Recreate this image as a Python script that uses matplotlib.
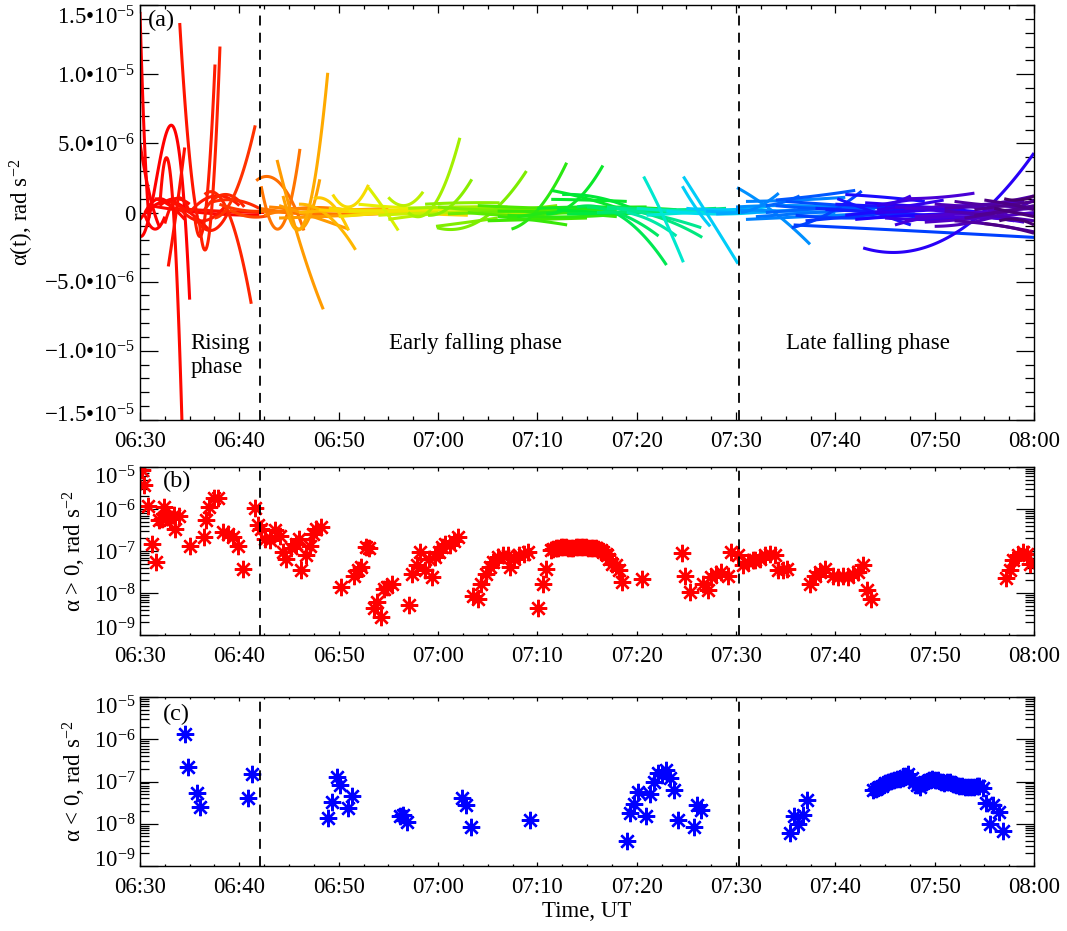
import numpy as np
import matplotlib
matplotlib.use('Agg')
import matplotlib.pyplot as plt
from matplotlib.colors import LinearSegmentedColormap
from matplotlib.ticker import FixedLocator, MultipleLocator, NullFormatter
from matplotlib.transforms import ScaledTranslation

plt.rcParams['font.family'] = ['Liberation Serif', 'DejaVu Serif']
plt.rcParams['mathtext.fontset'] = 'custom'
plt.rcParams['mathtext.rm'] = 'Liberation Serif'
plt.rcParams['mathtext.it'] = 'Liberation Serif:italic'

# time axis: minutes after 06:30 UT
time_ticks = [0, 10, 20, 30, 40, 50, 60, 70, 80, 90]
time_labels = ['06:30', '06:40', '06:50', '07:00', '07:10', '07:20', '07:30', '07:40', '07:50', '08:00']
phase_bounds = [12.1, 60.25]

# panel (a): fitted alpha(t) curves, knots (t in min, alpha in 1e-6 rad s^-2)
curve_t = [
    (0.0, 0.4, 0.9), (0.0, 1.0, 2.0), (0.0, 1.5, 2.85, 5.0), (2.85, 3.7, 4.5), (2.0, 3.3, 4.3),
    (4.0, 4.8, 5.8), (5.5, 6.8, 7.55), (6.0, 7.3, 8.05), (7.5, 9.8, 11.6), (6.5, 8.5, 11.2),
    (0.5, 1.5, 2.5), (1.5, 2.8, 4.5), (2.5, 3.5, 5.0), (3.0, 5.0, 7.0), (5.0, 7.5, 10.0),
    (3.5, 8.0, 12.5), (1.0, 6.0, 12.0), (8.0, 10.0, 12.3), (4.0, 6.0, 8.5), (9.0, 11.0, 13.0),
    (0.5, 2.0, 3.5), (2.0, 3.5, 5.0), (5.5, 7.0, 9.0), (6.5, 8.5, 10.5), (7.0, 9.5, 12.0),
    (0.0, 2.5, 5.0),
    (11.7, 12.9, 16.5), (13.8, 15.2, 18.45), (12.2, 13.9, 16.1), (14.4, 16.1, 18.1), (15.0, 17.5, 18.9),
    (12.0, 15.0, 19.0), (12.5, 16.0, 20.5), (14.0, 17.0, 21.0), (16.0, 18.5, 21.7), (17.5, 19.0, 21.0),
    (19.4, 21.0, 23.0), (23.0, 25.0, 26.0), (25.0, 26.5, 28.5), (27.0, 30.0, 32.2), (29.0, 31.5, 33.4),
    (29.8, 33.0, 36.0), (29.9, 34.2, 38.9), (37.4, 40.5, 42.95), (41.4, 45.0, 48.6), (40.9, 44.0, 46.6),
    (44.0, 48.0, 53.0), (50.7, 52.5, 54.7), (49.0, 51.5, 54.0), (54.7, 57.0, 60.2), (54.6, 55.8, 57.4),
    (45.0, 49.0, 52.2), (47.0, 52.0, 56.6), (48.0, 52.0, 56.5), (42.5, 46.0, 49.5), (36.0, 39.0, 43.0),
    (18.0, 24.0, 30.0), (20.0, 27.0, 34.0), (22.0, 28.0, 35.0), (25.0, 31.0, 37.0), (30.0, 36.0, 42.0),
    (33.0, 38.0, 44.0), (36.0, 42.0, 48.0), (38.0, 44.0, 51.0), (42.0, 48.0, 54.0), (46.0, 52.0, 58.0),
    (50.0, 55.0, 60.0), (53.0, 57.0, 62.0), (28.7, 32.5, 36.2), (41.4, 45.0, 49.0), (35.0, 40.0, 45.0),
    (12.0, 20.0, 28.0), (13.0, 19.0, 25.0), (14.0, 21.0, 28.0), (16.0, 23.0, 30.0), (19.0, 26.0, 33.0),
    (21.0, 29.0, 37.0), (24.0, 32.0, 40.0), (27.0, 34.0, 41.0), (31.0, 38.0, 45.0), (34.0, 41.0, 48.0),
    (37.0, 44.0, 50.0), (40.0, 47.0, 54.0), (43.0, 50.0, 57.0), (47.0, 53.0, 59.0), (51.0, 56.0, 61.0),
    (55.0, 59.0, 63.0), (58.0, 61.0, 64.0),
    (60.1, 63.5, 67.45), (60.5, 62.5, 64.3), (63.0, 65.0, 66.4), (65.6, 69.5, 72.65), (65.8, 77.0, 90.0),
    (72.8, 82.9, 90.0), (70.2, 74.0, 77.6), (75.0, 76.3, 77.6), (74.2, 76.5, 78.7), (74.2, 77.5, 80.9),
    (77.0, 83.0, 89.0), (80.0, 86.0, 90.0), (81.0, 85.5, 90.0), (82.0, 86.0, 90.0), (84.0, 87.0, 90.0),
    (60.0, 65.0, 70.0), (62.0, 68.0, 74.0), (64.0, 70.0, 76.0), (66.0, 72.0, 78.0), (68.0, 74.0, 80.0),
    (70.0, 76.0, 82.0), (72.0, 78.0, 84.0), (74.0, 80.0, 86.0), (76.0, 82.0, 88.0), (78.0, 84.0, 90.0),
    (80.0, 85.0, 90.0), (83.0, 86.5, 90.0), (85.0, 87.5, 90.0), (61.0, 66.0, 71.0), (64.0, 68.0, 72.0),
    (57.0, 61.0, 66.0), (71.0, 75.0, 79.0), (77.0, 80.5, 84.0), (76.0, 79.0, 82.0), (85.0, 87.0, 90.0),
    (60.0, 66.0, 72.0), (61.0, 67.0, 73.0), (63.0, 69.0, 75.0), (65.0, 71.0, 77.0), (67.0, 73.0, 79.0),
    (69.0, 75.0, 81.0), (71.0, 77.0, 83.0), (73.0, 79.0, 85.0), (75.0, 81.0, 87.0), (77.0, 83.0, 89.0),
    (79.0, 84.5, 90.0), (81.0, 85.5, 90.0), (82.0, 86.0, 90.0), (84.0, 87.0, 90.0), (86.0, 88.0, 90.0),
    (86.5, 88.2, 90.0), (87.0, 88.5, 90.0),
]
curve_v = [
    (14.5, 6.0, -0.4), (5.0, 1.2, -1.1), (-1.7, 1.8, 6.1, -6.3), (-3.9, 0.3, 4.7), (0.5, 0.8, -17.0),
    (13.7, 5.5, -0.4), (-0.3, 1.5, 10.7), (-0.8, 1.0, 12.0), (-0.4, 1.8, 6.3), (1.3, 0.6, -6.6),
    (-0.2, -1.2, -0.3), (1.0, 0.6, -0.5), (-0.8, 0.9, 0.0), (0.8, 0.0, -1.3), (0.0, 1.2, 0.5),
    (0.3, 0.1, 0.0), (0.5, 0.0, -0.2), (0.6, 0.2, 0.1), (0.3, -0.6, 0.4), (0.2, -0.3, -0.2),
    (0.0, 1.0, 0.0), (0.5, 1.0, 0.6), (-0.3, -1.3, 0.2), (0.2, 1.3, 0.4), (0.7, 0.9, 0.3),
    (-0.5, 0.8, 0.0),
    (2.3, 2.6, -1.3), (3.8, 0.0, -7.0), (1.9, -1.2, 4.6), (1.2, -1.2, 2.4), (-0.3, 2.0, 10.1),
    (0.3, 0.0, -0.3), (-0.2, 0.3, 0.2), (0.5, -0.2, -1.2), (0.6, 0.0, -2.7), (1.0, 0.8, -1.3),
    (1.3, 0.4, 2.0), (1.8, -0.2, -1.3), (1.1, 0.5, 1.5), (0.0, 1.0, 5.4), (-0.2, 0.6, 2.4),
    (-1.0, -0.7, -0.4), (-1.1, -0.6, 3.0), (-1.2, 0.6, 3.6), (1.6, 1.0, 0.2), (-0.1, 0.9, 3.4),
    (0.4, -0.1, -3.8), (2.6, 0.0, -3.6), (0.0, -0.6, -1.7), (2.6, 0.0, -3.7), (1.9, 0.5, -1.0),
    (0.4, -0.3, -1.7), (0.3, -0.3, -1.8), (0.3, -0.2, -1.1), (1.3, 1.1, 0.3), (-0.3, -0.5, -0.9),
    (0.2, 0.0, 0.1), (-0.3, 0.1, 0.4), (0.6, 0.3, 0.3), (-0.5, 0.0, 0.2), (0.4, 0.2, 0.5),
    (0.0, -0.2, 0.1), (0.1, 0.0, -0.3), (-0.3, 0.2, 0.4), (0.2, 0.0, 0.1), (0.0, 0.1, 0.3),
    (0.3, 0.1, 0.1), (0.1, -0.1, 0.0), (0.6, 0.7, 0.7), (0.95, 0.9, 0.8), (-0.6, -0.5, -0.4),
    (0.1, -0.1, 0.0), (0.4, 0.2, 0.3), (-0.4, -0.2, 0.1), (0.0, 0.2, 0.0), (0.3, 0.0, -0.2),
    (0.1, 0.2, 0.4), (-0.2, 0.0, -0.1), (0.3, 0.4, 0.2), (-0.1, 0.1, 0.3), (0.5, 0.3, 0.2),
    (-0.2, -0.3, 0.0), (0.3, 0.4, 0.2), (-0.1, 0.0, 0.2), (0.4, 0.2, 0.3), (-0.2, 0.0, 0.1),
    (0.3, 0.2, 0.4), (-0.1, 0.0, 0.1),
    (1.8, 0.2, -2.3), (0.0, 0.5, 1.4), (0.5, 0.8, 1.2), (-1.1, 0.0, 1.55), (-0.9, -1.3, -1.8),
    (-2.56, -1.1, 4.3), (1.0, 0.0, -0.9), (0.5, 0.8, 1.2), (0.5, 0.8, 1.0), (0.2, 0.5, 0.9),
    (-0.6, -0.3, -0.7), (-1.0, -0.3, 0.9), (0.3, 0.6, 1.2), (-0.6, -0.9, -1.4), (0.2, 0.5, 0.8),
    (0.2, 0.1, 0.0), (-0.3, 0.0, 0.3), (0.5, 0.3, 0.6), (-0.2, -0.4, -0.1), (0.3, 0.0, -0.5),
    (0.6, 0.4, 0.2), (-0.5, -0.2, 0.0), (0.0, 0.2, 0.6), (0.4, 0.0, -0.6), (-0.3, 0.0, 0.3),
    (0.6, 0.3, -0.2), (-0.4, 0.0, 0.5), (0.9, 0.6, 0.2), (0.8, 0.9, 1.1), (0.9, 1.2, 1.6),
    (0.1, 0.0, 0.2), (1.3, 1.1, 0.8), (1.0, 1.1, 1.4), (-0.9, -0.4, -0.2), (-0.8, -1.0, -1.5),
    (0.4, 0.5, 0.3), (-0.5, -0.3, -0.1), (0.0, 0.3, 0.5), (0.8, 0.5, 0.2), (-0.6, -0.2, 0.2),
    (0.2, 0.0, -0.3), (-0.2, 0.2, 0.4), (0.7, 0.4, 0.0), (-0.4, -0.5, -0.2), (0.3, 0.5, 0.8),
    (-0.7, -0.4, 0.0), (0.1, -0.2, -0.6), (0.8, 0.5, 0.4), (-0.2, 0.1, 0.4), (0.3, 0.0, -0.3),
    (-0.6, -0.5, -0.9), (1.0, 0.9, 1.2),
]

# panel (b): alpha > 0
pos_t = [0.17, 0.4, 0.8, 1.17, 1.57, 1.9, 2.23, 2.4, 2.73, 3.07, 3.4, 3.57, 3.97, 5.07, 6.4, 6.63,
         6.9, 7.4, 7.9, 8.4, 8.9, 9.4, 9.9, 10.4, 11.57, 11.9, 12.23, 12.57, 13.07, 13.57, 14.07,
         14.4, 14.73, 15.23, 15.73, 15.97, 16.23, 16.73, 17.07, 17.4, 17.73, 18.23, 20.23, 21.57,
         21.9, 22.23, 22.73, 23.07, 23.57, 23.9, 24.23, 24.57, 24.9, 25.4, 27.07, 27.4, 27.9, 28.23,
         28.73, 29.07, 29.4, 29.73, 30.07, 30.4, 30.73, 31.2, 31.6, 32.0,
         33.53, 34.03, 34.37, 34.87, 35.2, 35.53, 36.03, 36.53, 37.03, 37.2, 37.7, 38.2, 38.7, 39.03,
         40.03, 40.53, 40.87, 41.37, 41.6, 41.87, 42.1, 42.37, 42.6, 42.87, 43.1, 43.37, 43.6, 43.87,
         44.1, 44.37, 44.6, 44.87, 45.1, 45.37, 45.6, 45.87, 46.1, 46.37, 46.6, 46.87, 47.0, 47.2,
         47.53, 47.87, 48.2, 48.53, 50.53, 54.53, 54.87, 55.37, 56.7, 57.2, 57.53, 58.03, 58.53,
         59.2, 59.53, 60.2, 60.7, 61.2, 61.7, 61.9, 62.4, 62.9, 63.4, 63.9, 64.26, 64.77, 65.1,
         67.45, 67.95, 68.46, 68.96, 69.8, 70.3, 70.8, 71.3, 71.8, 72.3, 72.75, 73.15, 73.56,
         87.2, 87.6, 87.9, 88.4, 88.9, 89.26, 89.6]
pos_v = [8.3e-6, 3.8e-6, 1.2e-6, 1.5e-7, 5.5e-8, 5.4e-7, 5.9e-7, 1.1e-6, 6.5e-7, 5.9e-7, 7.1e-7,
         3.4e-7, 6.8e-7, 1.35e-7, 2.1e-7, 5.4e-7, 1.1e-6, 1.8e-6, 1.8e-6, 2.8e-7, 2.6e-7, 2.1e-7,
         1.3e-7, 3.8e-8, 1.05e-6, 4.1e-7, 3.4e-7, 1.95e-7, 1.8e-7, 3.1e-7, 2.3e-7, 9.5e-8, 6.6e-8,
         1.15e-7, 1.5e-7, 1.95e-7, 3.5e-8, 7.9e-8, 1.35e-7, 2.6e-7, 3.4e-7, 3.7e-7, 1.4e-8, 2.6e-8,
         3.5e-8, 4.2e-8, 1.25e-7, 1.15e-7, 4.3e-9, 6.1e-9, 2.7e-9, 1.25e-8, 1.4e-8, 1.65e-8, 5.1e-9,
         2.9e-8, 4.6e-8, 9.5e-8, 3.5e-8, 6.6e-8, 2.4e-8, 7.2e-8, 9.5e-8, 1.25e-7, 1.5e-7, 1.4e-7,
         1.7e-7, 2.2e-7,
         8.7e-9, 7.4e-9, 1.65e-8, 2.9e-8, 4.2e-8, 5.5e-8, 7.2e-8, 7.9e-8, 7.9e-8, 4.2e-8, 6.6e-8,
         7.9e-8, 8.7e-8, 9.5e-8, 4.3e-9, 1.65e-8, 3.8e-8, 1.05e-7, 1.1e-7, 1.15e-7, 1.2e-7, 1.25e-7,
         1.25e-7, 1.25e-7, 1.2e-7, 1.15e-7, 1.2e-7, 1.25e-7, 1.25e-7, 1.25e-7, 1.25e-7, 1.25e-7,
         1.2e-7, 1.17e-7, 1.15e-7, 1.15e-7, 1.1e-7, 1.05e-7, 9.5e-8, 8.7e-8, 7.9e-8, 6.6e-8, 5.0e-8,
         4.6e-8, 3.5e-8, 1.8e-8, 2.2e-8, 9.1e-8, 2.6e-8, 1.05e-8, 1.65e-8, 1.15e-8, 2.4e-8, 2.9e-8,
         3.2e-8, 2.6e-8, 9.5e-8, 7.9e-8, 4.6e-8, 5.5e-8, 6.0e-8, 6.0e-8, 6.6e-8, 7.9e-8, 8.7e-8,
         7.9e-8, 3.5e-8, 3.5e-8, 3.8e-8, 1.65e-8, 2.6e-8, 3.2e-8, 3.8e-8, 2.6e-8, 2.4e-8, 2.6e-8,
         2.4e-8, 2.9e-8, 3.2e-8, 4.6e-8, 1.15e-8, 7.4e-9,
         2.3e-8, 3.5e-8, 6.0e-8, 7.9e-8, 9.5e-8, 8.7e-8, 5.0e-8]

# panel (c): |alpha| for alpha < 0
neg_t = [4.53, 4.87, 5.7, 6.04, 10.9, 11.3, 18.96, 19.3, 19.8, 20.13, 20.97, 21.3, 26.17, 26.5,
         26.84, 32.46, 32.85, 33.33, 39.29, 49.03, 49.35, 49.75, 50.14, 50.94, 51.34, 51.73, 52.13,
         52.53, 52.93, 53.32, 53.8, 54.2, 55.79, 56.1, 56.5, 65.45, 65.84, 66.24, 66.72, 67.15,
         73.79, 74.1, 74.39, 74.7, 74.98, 75.3, 75.58, 75.9, 76.17, 76.5, 76.77, 77.06, 77.36, 77.7,
         77.96, 78.26, 78.56, 78.86, 79.15, 79.45, 79.75, 80.05, 80.35, 80.65, 80.94, 81.24, 81.54,
         81.84, 82.13, 82.43, 82.73, 83.03, 83.32, 83.62, 83.92, 84.21, 84.51, 84.91, 85.12, 85.6,
         85.91, 86.51, 86.9]
neg_v = [1.36e-6, 2.2e-7, 5.4e-8, 2.5e-8, 4.1e-8, 1.5e-7, 1.4e-8, 3.3e-8, 1.3e-7, 8.2e-8, 2.3e-8,
         4.6e-8, 1.5e-8, 1.6e-8, 1.1e-8, 4.0e-8, 2.8e-8, 8.3e-9, 1.2e-8, 4.0e-9, 1.8e-8, 2.9e-8,
         5.5e-8, 1.5e-8, 5.2e-8, 1.0e-7, 1.6e-7, 1.45e-7, 1.9e-7, 1.2e-7, 6.3e-8, 1.2e-8, 8.3e-9,
         2.8e-8, 2.1e-8, 6.2e-9, 1.5e-8, 1.0e-8, 1.65e-8, 3.7e-8,
         6.2e-8, 6.8e-8, 7.4e-8, 8.0e-8, 9.1e-8, 9.5e-8, 1.05e-7, 1.1e-7, 1.15e-7, 1.15e-7, 1.2e-7,
         1.35e-7, 1.5e-7, 1.2e-7, 1.0e-7, 8.5e-8, 7.6e-8, 9.0e-8, 1.0e-7, 1.1e-7, 1.15e-7, 1.1e-7,
         1.07e-7, 1.0e-7, 9.1e-8, 9.5e-8, 9.5e-8, 8.8e-8, 8.3e-8, 8.0e-8, 7.9e-8, 7.6e-8, 7.4e-8,
         7.6e-8, 7.6e-8, 7.8e-8, 7.9e-8, 6.9e-8, 3.1e-8, 1.0e-8, 2.8e-8, 1.95e-8, 6.9e-9]

a_ticks = [-1.5e-5, -1.0e-5, -5.0e-6, 0.0, 5.0e-6, 1.0e-5, 1.5e-5]
a_labels = ['\u22121.5\u202210$^{\u22125}$', '\u22121.0\u202210$^{\u22125}$', '\u22125.0\u202210$^{\u22126}$', '0',
            '5.0\u202210$^{\u22126}$', '1.0\u202210$^{\u22125}$', '1.5\u202210$^{\u22125}$']
log_ticks = [1e-9, 1e-8, 1e-7, 1e-6, 1e-5]
log_labels = ['10$^{\u22129}$', '10$^{\u22128}$', '10$^{\u22127}$', '10$^{\u22126}$', '10$^{\u22125}$']

rainbow = LinearSegmentedColormap.from_list('idl_rainbow', [
    (0.0, '#ff0000'), (6/90, '#ff2000'), (11/90, '#ff6000'), (14/90, '#ffa000'), (18/90, '#ffd000'),
    (22/90, '#e8f000'), (27/90, '#a0f000'), (35/90, '#40e800'), (42/90, '#00e830'), (48/90, '#00e890'),
    (52/90, '#00e8e8'), (56/90, '#00c0ff'), (60/90, '#0090ff'), (66/90, '#0040ff'), (72/90, '#2000ff'),
    (78/90, '#5000d0'), (84/90, '#500090'), (1.0, '#400050')])

FS = 16.5
fig = plt.figure(figsize=(10.67, 9.31), dpi=100)
ax_a = fig.add_axes([0.1312, 0.5489, 0.8379, 0.4457])
ax_b = fig.add_axes([0.1312, 0.3179, 0.8379, 0.1805])
ax_c = fig.add_axes([0.1312, 0.0698, 0.8379, 0.1815])

order = np.argsort([t[0] for t in curve_t], kind='stable')
for i in order:
    ts, vs = curve_t[i], curve_v[i]
    coef = np.polyfit(ts, vs, len(ts) - 1)
    tt = np.linspace(ts[0], ts[-1], 80)
    ax_a.plot(tt, np.polyval(coef, tt) * 1e-6, color=rainbow(ts[0] / 90), lw=2.2,
              solid_capstyle='butt')
ax_a.set_ylim(-1.5e-5, 1.5e-5)
ax_a.set_yticks(a_ticks, a_labels)
ax_a.yaxis.set_minor_locator(MultipleLocator(1e-6))
ax_a.set_ylabel('\u03b1(t), rad s$^{\u22122}$', fontsize=FS, labelpad=6)
ax_a.text(5.08, -8.7e-6, 'Rising\nphase', fontsize=FS, va='top', ha='left', linespacing=1.2)
ax_a.text(25.1, -8.7e-6, 'Early falling phase', fontsize=FS, va='top', ha='left')
ax_a.text(65.0, -8.7e-6, 'Late falling phase', fontsize=FS, va='top', ha='left')

mk = dict(ls='none', marker=(8, 2, 0), ms=12.5, mew=1.7)
ax_b.plot(pos_t, pos_v, color='#ff0000', mec='#ff0000', **mk)
ax_c.plot(neg_t, neg_v, color='#0000ff', mec='#0000ff', **mk)
ax_b.set_ylabel('\u03b1 > 0, rad s$^{\u22122}$', fontsize=FS)
ax_c.set_ylabel('\u03b1 < 0, rad s$^{\u22122}$', fontsize=FS)
ax_c.set_xlabel('Time, UT', fontsize=FS, labelpad=2)

for ax in (ax_b, ax_c):
    ax.set_yscale('log')
    ax.set_ylim(1e-9, 1e-5)
    ax.yaxis.set_major_locator(FixedLocator(log_ticks))
    ax.set_yticklabels(log_labels)
    ax.yaxis.set_minor_locator(FixedLocator([s * 10.0**e for e in range(-9, -5) for s in range(2, 10)]))
    ax.yaxis.set_minor_formatter(NullFormatter())

for ax, lab, ty, xl in ((ax_a, '(a)', 0.988, 5.8), (ax_b, '(b)', 0.975, 3.0), (ax_c, '(c)', 0.96, 3.0)):
    ax.set_xlim(0, 90)
    ax.set_xticks(time_ticks, time_labels)
    ax.xaxis.set_minor_locator(MultipleLocator(2.5))
    for b in phase_bounds:
        ax.axvline(b, color='k', lw=1.3, ls=(0, (5.5, 4)))
    ax.tick_params(axis='both', which='both', direction='in', top=True, right=True,
                   labelsize=FS, width=0.9)
    ax.tick_params(axis='y', which='major', length=13)
    ax.tick_params(axis='y', which='minor', length=6.5)
    ax.tick_params(axis='x', which='major', length=xl, pad=8)
    ax.tick_params(axis='x', which='minor', length=xl * 0.55)
    for s in ax.spines.values():
        s.set_linewidth(1.0)
    ax.text(0.009 if ax is ax_a else 0.026, ty, lab, transform=ax.transAxes, fontsize=17.5,
            va='top', ha='left')

# nudge the end labels on the y axes inwards
for ax, dn, up in ((ax_a, 7, 10), (ax_b, 8, 8), (ax_c, 8, 8)):
    ticks = ax.yaxis.get_major_ticks()
    for tick, px in ((ticks[0], dn), (ticks[-1], -up)):
        lab = tick.label1
        lab.set_transform(lab.get_transform() + ScaledTranslation(0, px / 100, fig.dpi_scale_trans))

fig.savefig('out.png', dpi=100)
